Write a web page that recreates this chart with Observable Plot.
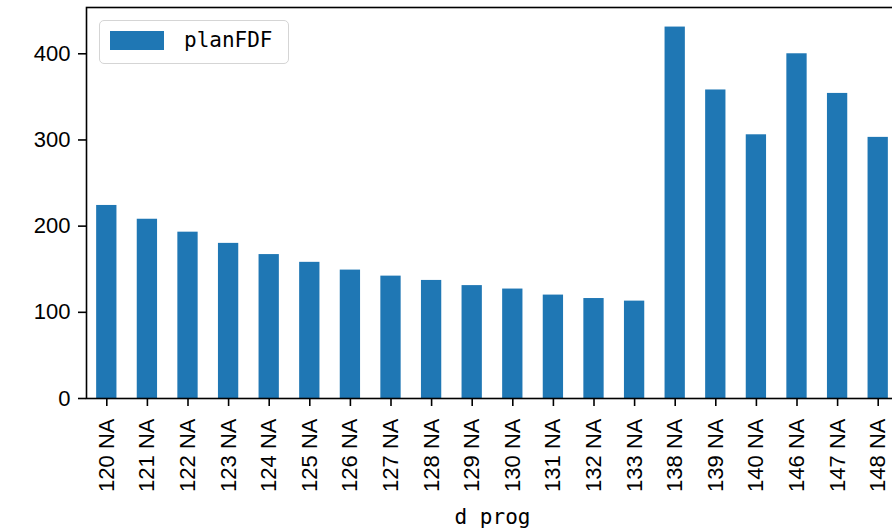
<!DOCTYPE html>
<html><head><meta charset="utf-8">
<script src="https://cdn.jsdelivr.net/npm/d3@7"></script>
<script src="https://cdn.jsdelivr.net/npm/@observablehq/plot@0.6"></script>
<style>
html,body{margin:0;padding:0;background:#fff;overflow:hidden;}
#wrap{position:relative;width:892px;height:529px;overflow:hidden;}
#legend{position:absolute;left:99px;top:20px;width:188px;height:42px;border:1.5px solid #d5d5d5;border-radius:5px;background:rgba(255,255,255,0.8);}
#legend .sw{position:absolute;left:10px;top:10px;width:54px;height:19px;background:#1f77b4;}
#legend .lb{position:absolute;left:84px;top:6px;font-family:"DejaVu Sans Mono",monospace;font-size:21px;line-height:26px;color:#000;}
</style></head>
<body><div id="wrap"></div>
<script>
const categories = ["120 NA","121 NA","122 NA","123 NA","124 NA","125 NA","126 NA","127 NA","128 NA","129 NA","130 NA","131 NA","132 NA","133 NA","138 NA","139 NA","140 NA","146 NA","147 NA","148 NA"];
const planFDF = [224, 208, 193, 180, 167, 158, 149, 142, 137, 131, 127, 120, 116, 113, 431, 358, 306, 400, 354, 303];
const yTicks = [0, 100, 200, 300, 400];
const seriesName = "planFDF";
const xLabel = "d prog";

const data = categories.map((c, i) => ({cat: c, v: planFDF[i]}));

const chart = Plot.plot({
  width: 900, height: 529,
  marginLeft: 86, marginRight: 2, marginTop: 7, marginBottom: 131,
  style: {fontFamily: "'Liberation Sans', Arial, sans-serif", fontSize: "22px", color: "black", background: "white", maxWidth: "none", overflow: "hidden"},
  x: {domain: categories, paddingInner: 0.5, paddingOuter: 0.25, align: 0.5, round: false},
  y: {domain: [0, 453.7]},
  marks: [
    Plot.barY(data, {x: "cat", y: "v", fill: "#1f77b4"}),
    Plot.axisX({tickRotate: -90, tickSize: 8, tickPadding: 12, label: null, strokeWidth: 1.6}),
    Plot.axisY({ticks: yTicks, tickSize: 8, tickPadding: 8, label: null, strokeWidth: 1.6, tickFormat: d => String(d)}),
    Plot.frame({stroke: "black", strokeWidth: 1.6}),
    Plot.text([xLabel], {text: d => d, frameAnchor: "bottom", dy: 125, lineAnchor: "bottom", fontFamily: "DejaVu Sans Mono", fontSize: 21, fill: "black"})
  ]
});
const wrap = document.getElementById("wrap");
wrap.appendChild(chart);
const lg = document.createElement("div");
lg.id = "legend";
lg.innerHTML = '<div class="sw"></div><div class="lb"></div>';
lg.querySelector(".lb").textContent = seriesName;
wrap.appendChild(lg);
</script>
</body></html>
